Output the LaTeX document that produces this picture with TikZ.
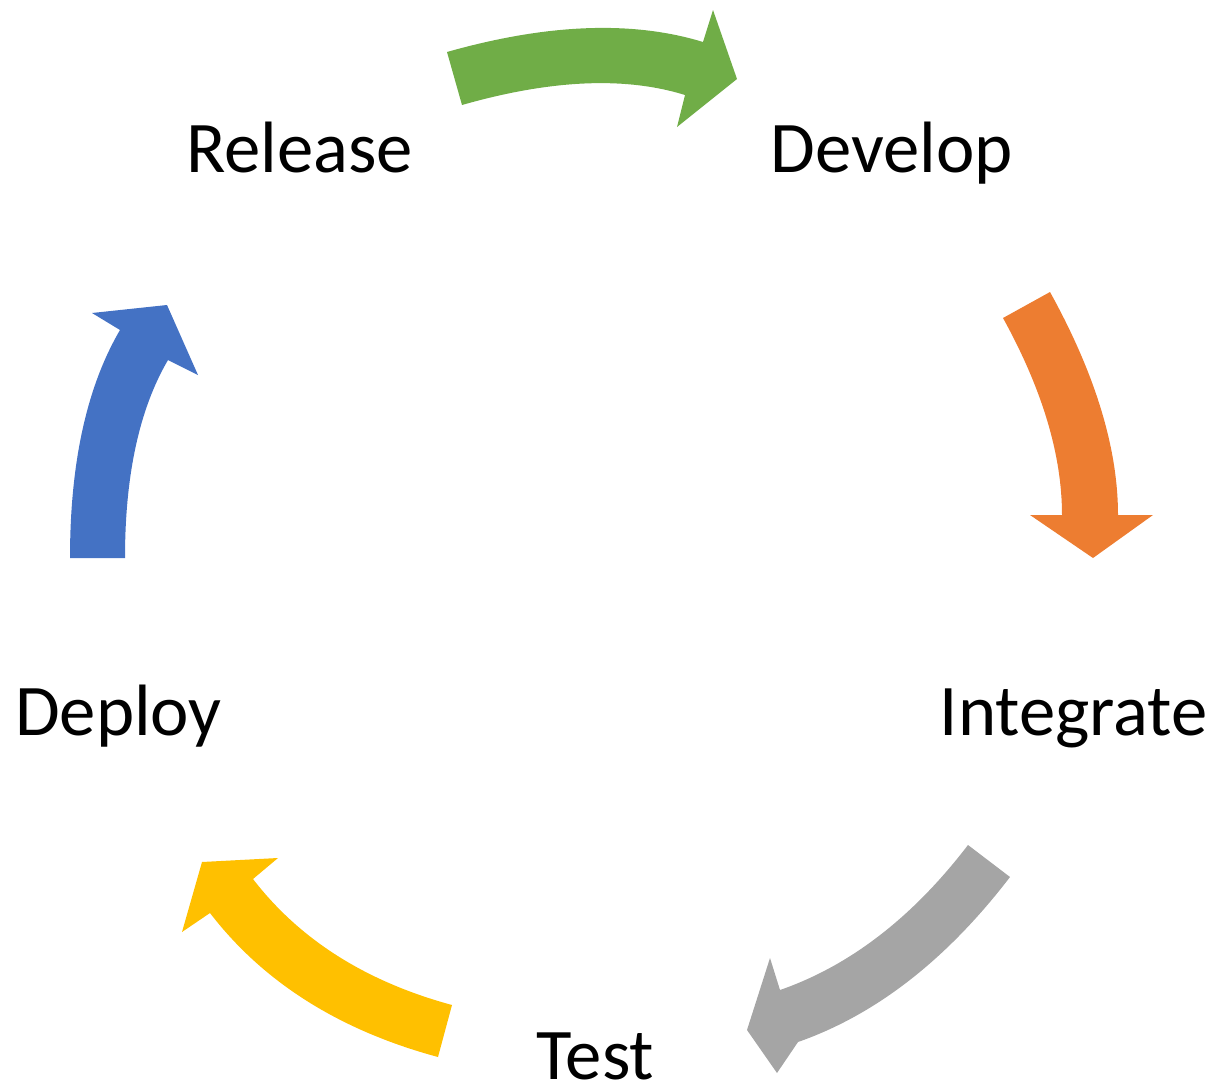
\documentclass[tikz,border=0pt]{standalone}
\usepackage{fontspec}
\setmainfont{Carlito}
\usetikzlibrary{calc}
\definecolor{cgreen}{HTML}{70AD47}
\definecolor{corange}{HTML}{ED7D31}
\definecolor{cgray}{HTML}{A5A5A5}
\definecolor{cyellow}{HTML}{FFC000}
\definecolor{cblue}{HTML}{4472C4}
\tikzset{
  label/.style={inner sep=0pt, anchor=base, font=\fontsize{73}{80}\selectfont, text=black},
  blockarrow/.style={draw=none}
}
% quadratic curve helper: \quadto{start}{control}{end}
\newcommand{\qto}[3]{.. controls ($(#1)!0.6667!(#2)$) and ($(#3)!0.6667!(#2)$) .. (#3)}
\begin{document}
\begin{tikzpicture}[x=1bp,y=-1bp]
\useasboundingbox (0,0) rectangle (1218,1085);
% labels
\node[label] (release) at (299.5,172) {Release};
\node[label] (develop) at (891.5,172) {Develop};
\node[label] (integrate) at (1073.5,735) {Integrate};
\node[label] (test) at (595.5,1079) {Test};
\node[label] (deploy) at (118.5,735) {Deploy};
% green arrow
\coordinate (g1) at (447,52); \coordinate (gc1) at (597,9.5); \coordinate (g2) at (703,42);
\coordinate (g3) at (713,10); \coordinate (g4) at (737,79); \coordinate (g5) at (677,127);
\coordinate (g6) at (685,95); \coordinate (gc2) at (595,67); \coordinate (g7) at (462,105);
\fill[cgreen,blockarrow] (g1) \qto{g1}{gc1}{g2} -- (g3) -- (g4) -- (g5) -- (g6) \qto{g6}{gc2}{g7} -- cycle;
% orange arrow
\coordinate (o1) at (1050,292); \coordinate (oc1) at (1118,415); \coordinate (o2) at (1118,515);
\coordinate (o3) at (1153,515); \coordinate (o4) at (1093,558); \coordinate (o5) at (1030,515);
\coordinate (o6) at (1062,515); \coordinate (oc2) at (1062,425); \coordinate (o7) at (1003,318);
\fill[corange,blockarrow] (o1) \qto{o1}{oc1}{o2} -- (o3) -- (o4) -- (o5) -- (o6) \qto{o6}{oc2}{o7} -- cycle;
% gray arrow
\coordinate (r1) at (1010,877); \coordinate (rc1) at (915,1001); \coordinate (r2) at (798,1042);
\coordinate (r3) at (777,1073); \coordinate (r4) at (747,1030); \coordinate (r5) at (770,958);
\coordinate (r6) at (780,990); \coordinate (rc2) at (885,953.5); \coordinate (r7) at (968,845);
\fill[cgray,blockarrow] (r1) \qto{r1}{rc1}{r2} -- (r3) -- (r4) -- (r5) -- (r6) \qto{r6}{rc2}{r7} -- cycle;
% yellow arrow
\coordinate (y1) at (452,1005); \coordinate (yc1) at (323,970); \coordinate (y2) at (253,879);
\coordinate (y3) at (278,858); \coordinate (y4) at (202,862); \coordinate (y5) at (182,932);
\coordinate (y6) at (210,913); \coordinate (yc2) at (290,1017); \coordinate (y7) at (438,1057);
\fill[cyellow,blockarrow] (y1) \qto{y1}{yc1}{y2} -- (y3) -- (y4) -- (y5) -- (y6) \qto{y6}{yc2}{y7} -- cycle;
% blue arrow
\coordinate (b1) at (70,558); \coordinate (bc1) at (70,415.5); \coordinate (b2) at (120,330);
\coordinate (b3) at (92,313); \coordinate (b4) at (167,305); \coordinate (b5) at (198,375);
\coordinate (b6) at (168,360); \coordinate (bc2) at (125,433.5); \coordinate (b7) at (125,558);
\fill[cblue,blockarrow] (b1) \qto{b1}{bc1}{b2} -- (b3) -- (b4) -- (b5) -- (b6) \qto{b6}{bc2}{b7} -- cycle;
\end{tikzpicture}
\end{document}
